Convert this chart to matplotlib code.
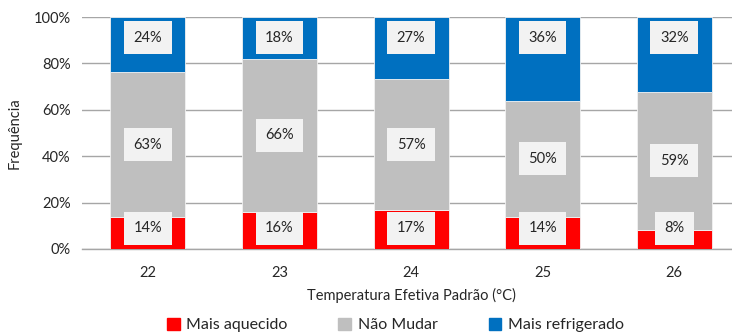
import numpy as np
import matplotlib.pyplot as plt
from matplotlib.patches import Patch

plt.rcParams["font.family"] = ["Lato", "DejaVu Sans"]

temperaturas = ["22", "23", "24", "25", "26"]
mais_aquecido = [13.6, 16.0, 16.6, 14.0, 8.4]
nao_mudar = [62.8, 66.0, 56.8, 50.0, 59.4]
mais_refrigerado = [23.6, 18.0, 26.6, 36.0, 32.2]

COR_AQUECIDO = "#FF0000"
COR_NAO_MUDAR = "#BFBFBF"
COR_REFRIGERADO = "#0070C0"
TEXTO = "#262626"

fig = plt.figure(figsize=(7.32, 3.34), dpi=100)
ax = fig.add_axes([0.112, 0.2545, 0.899, 0.6945])

x = np.arange(len(temperaturas))
largura = 0.57
aq = np.array(mais_aquecido)
nm = np.array(nao_mudar)
rf = np.array(mais_refrigerado)

ax.bar(x, aq, largura, color=COR_AQUECIDO, edgecolor="#F2F2F2", linewidth=0.6, zorder=3)
ax.bar(x, nm, largura, bottom=aq, color=COR_NAO_MUDAR, edgecolor="#F2F2F2", linewidth=0.6, zorder=3)
ax.bar(x, rf, largura, bottom=aq + nm, color=COR_REFRIGERADO, edgecolor="#F2F2F2", linewidth=0.6, zorder=3)

caixa = dict(boxstyle="square,pad=0.65", facecolor="#F2F2F2", edgecolor="none")
rotulo = dict(ha="center", va="center", fontsize=10.5, color=TEXTO, bbox=caixa, zorder=4)
for i in range(len(x)):
    # vermelho na base, cinza no centro, azul no topo
    ax.text(x[i], 9.0, f"{aq[i]:.0f}%", **rotulo)
    ax.text(x[i], aq[i] + nm[i] / 2, f"{nm[i]:.0f}%", **rotulo)
    ax.text(x[i], 91.0, f"{rf[i]:.0f}%", **rotulo)

ax.set_xlim(-0.5, len(x) - 0.5)
ax.set_ylim(0, 100)
ax.set_yticks(np.arange(0, 101, 20))
ax.set_yticklabels([f"{v}%" for v in range(0, 101, 20)])
ax.set_xticks(x)
ax.set_xticklabels(temperaturas)
ax.tick_params(axis="both", length=0, labelsize=10.5, colors=TEXTO)
ax.tick_params(axis="x", pad=12)
ax.tick_params(axis="y", pad=8)
ax.grid(axis="y", color="#A6A6A6", linewidth=1.0, zorder=0)
for lado in ["left", "right", "top"]:
    ax.spines[lado].set_visible(False)
ax.spines["bottom"].set_color("#A6A6A6")
ax.spines["bottom"].set_linewidth(1.0)

ax.set_xlabel("Temperatura Efetiva Padrão (°C)", fontsize=10.5, color=TEXTO, labelpad=6)
ax.set_ylabel("Frequência", fontsize=10.5, color=TEXTO, labelpad=9)

handles = [Patch(color=COR_AQUECIDO), Patch(color=COR_NAO_MUDAR), Patch(color=COR_REFRIGERADO)]
fig.legend(handles, ["Mais aquecido", "Não Mudar", "Mais refrigerado"],
           loc="center", bbox_to_anchor=(0.54, 0.027), ncol=3, frameon=False,
           fontsize=11.5, handlelength=0.8, handleheight=0.8, handletextpad=0.4,
           columnspacing=3.2, labelcolor=TEXTO)

fig.savefig("out.png", dpi=100)
